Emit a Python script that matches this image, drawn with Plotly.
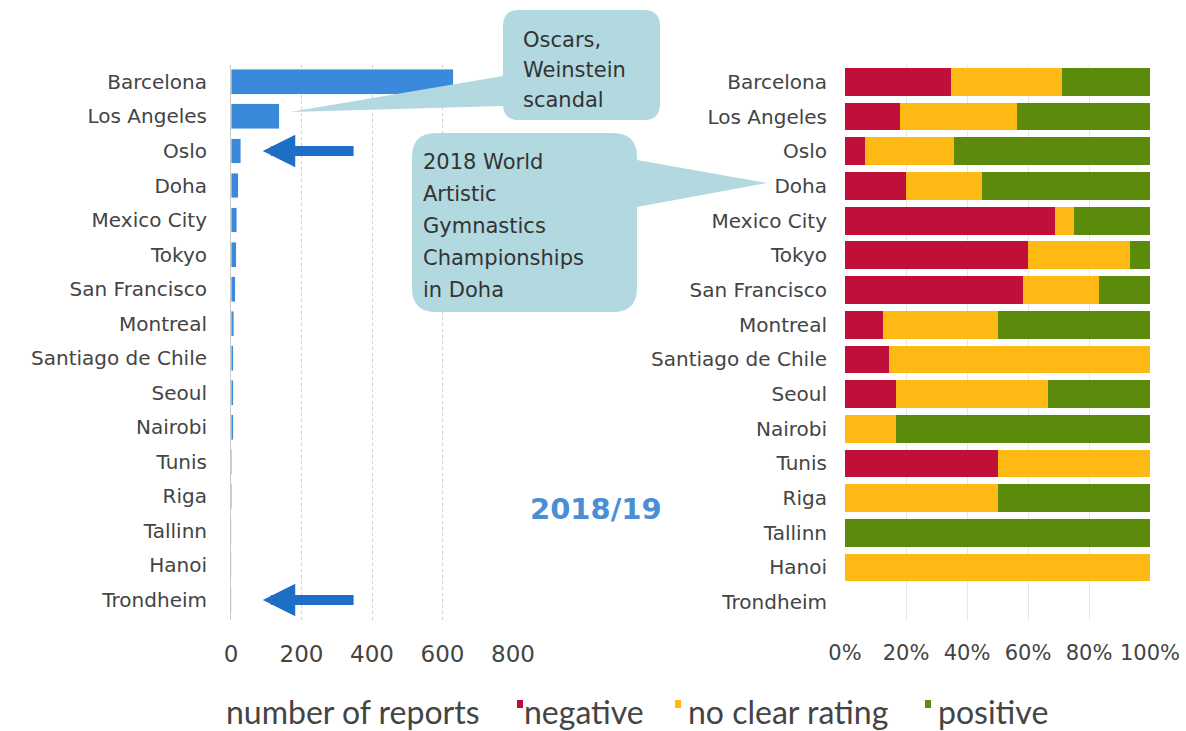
import plotly.graph_objects as go

# ---- data -------------------------------------------------------------
cities = ["Barcelona", "Los Angeles", "Oslo", "Doha", "Mexico City", "Tokyo",
          "San Francisco", "Montreal", "Santiago de Chile", "Seoul", "Nairobi",
          "Tunis", "Riga", "Tallinn", "Hanoi", "Trondheim"]
reports = [630, 137, 28, 20, 16, 15, 12, 8, 7, 6, 6, 2, 2, 1, 1, 0]
negative = [34.6, 17.9, 6.4, 20.0, 68.75, 60.0, 58.3, 12.5, 14.3, 16.7, 0, 50, 0, 0, 0, 0]
no_clear = [36.5, 38.5, 29.3, 25.0, 6.25, 33.3, 25.0, 37.5, 85.7, 50.0, 16.7, 50, 50, 0, 100, 0]
positive = [28.9, 43.6, 64.3, 55.0, 25.0, 6.7, 16.7, 50.0, 0, 33.3, 83.3, 0, 50, 100, 0, 0]
count_ticks = [0, 200, 400, 600, 800]
share_ticks = [0, 20, 40, 60, 80, 100]
share_labels = [f"{v}%" for v in share_ticks]

# ---- styling ----------------------------------------------------------
W, H = 1186, 731
BLUE = "#3A89DB"
ARROW = "#1C6FC4"
RED = "#C00F39"
YELLOW = "#FFB914"
GREEN = "#5C8A0A"
CALLOUT = "#B2D9DF"
TXT = "#444444"
TICK_FONT = dict(family="DejaVu Sans", size=20, color=TXT)


def px(x):
    return x / W


def py(y):
    return 1 - y / H


y_dom = [py(619.5), py(64.6)]

fig = go.Figure()

# left: number of reports
fig.add_trace(go.Bar(x=reports, y=cities, orientation="h", marker_color=BLUE,
                     width=0.72, xaxis="x", yaxis="y", showlegend=False))

# right: rating shares
for name, vals, col in [("negative", negative, RED),
                        ("no clear rating", no_clear, YELLOW),
                        ("positive", positive, GREEN)]:
    fig.add_trace(go.Bar(x=vals, y=cities, orientation="h", name=name,
                         marker_color=col, marker_line_width=0,
                         xaxis="x2", yaxis="y2", showlegend=False))

fig.update_layout(
    width=W, height=H, autosize=False, showlegend=False,
    margin=dict(l=0, r=0, t=0, b=0, pad=0),
    paper_bgcolor="white", plot_bgcolor="white",
    barmode="stack", bargap=0.2,
    xaxis=dict(domain=[px(231), px(513)], range=[0, 800], tickvals=count_ticks,
               showgrid=True, gridcolor="#CFCFCF", griddash="dot", gridwidth=1,
               zeroline=False, tickfont=dict(family="DejaVu Sans", size=23, color=TXT),
               ticklabelstandoff=18, automargin=False, anchor="y"),
    yaxis=dict(domain=y_dom, categoryorder="array", categoryarray=cities,
               autorange="reversed", tickfont=TICK_FONT, showline=True,
               linecolor="#C8C8C8", linewidth=1, ticklabelstandoff=19,
               showgrid=False, automargin=False, anchor="x"),
    xaxis2=dict(domain=[px(845), px(1150)], range=[0, 100], tickvals=share_ticks,
                ticktext=share_labels, showgrid=True, gridcolor="#E6E6E6",
                zeroline=False, tickfont=dict(family="DejaVu Sans", size=21, color=TXT),
                ticklabelstandoff=18, automargin=False, anchor="y2"),
    yaxis2=dict(domain=y_dom, categoryorder="array", categoryarray=cities,
                autorange="reversed", tickfont=TICK_FONT, anchor="x2",
                ticklabelstandoff=17, showgrid=False, automargin=False),
)

# ---- callouts ---------------------------------------------------------
def rounded_box(x0, y0, x1, y1, r, tail=None):
    """Rounded rectangle in pixel coords, optional wedge tail on left/right side."""
    d = f"M{px(x0 + r)},{py(y0)} L{px(x1 - r)},{py(y0)} Q{px(x1)},{py(y0)} {px(x1)},{py(y0 + r)} "
    if tail and tail[0] == "right":
        _, ya, yb, tx, ty = tail
        d += f"L{px(x1)},{py(ya)} L{px(tx)},{py(ty)} L{px(x1)},{py(yb)} "
    d += f"L{px(x1)},{py(y1 - r)} Q{px(x1)},{py(y1)} {px(x1 - r)},{py(y1)} "
    d += f"L{px(x0 + r)},{py(y1)} Q{px(x0)},{py(y1)} {px(x0)},{py(y1 - r)} "
    if tail and tail[0] == "left":
        _, ya, yb, tx, ty = tail
        d += f"L{px(x0)},{py(yb)} L{px(tx)},{py(ty)} L{px(x0)},{py(ya)} "
    d += f"L{px(x0)},{py(y0 + r)} Q{px(x0)},{py(y0)} {px(x0 + r)},{py(y0)} Z"
    return d


fig.add_shape(type="path", xref="paper", yref="paper", layer="above",
              path=rounded_box(503, 10, 660, 120, 16, ("left", 76, 106, 290, 112)),
              fillcolor=CALLOUT, line_width=0)
fig.add_shape(type="path", xref="paper", yref="paper", layer="above",
              path=rounded_box(412, 133, 637, 312, 24, ("right", 160, 207, 767, 183)),
              fillcolor=CALLOUT, line_width=0)

CALL_FONT = dict(family="DejaVu Sans", size=21, color="#333333")
for txt, yc in zip(["Oscars,", "Weinstein", "scandal"], [40, 70, 100]):
    fig.add_annotation(text=txt, xref="paper", yref="paper", x=px(521), y=py(yc),
                       xanchor="left", yanchor="middle", showarrow=False, font=CALL_FONT)
for txt, yc in zip(["2018 World", "Artistic", "Gymnastics", "Championships", "in Doha"],
                   [162, 194, 226, 258, 290]):
    fig.add_annotation(text=txt, xref="paper", yref="paper", x=px(421), y=py(yc),
                       xanchor="left", yanchor="middle", showarrow=False, font=CALL_FONT)

# arrows pointing at Oslo and Trondheim
for city in ["Oslo", "Trondheim"]:
    idx = cities.index(city)
    fig.add_annotation(x=90, y=idx, xref="x", yref="y", ax=352, ay=idx,
                       axref="x", ayref="y", text="", showarrow=True,
                       arrowhead=2, arrowsize=0.65, arrowwidth=10, arrowcolor=ARROW,
                       standoff=0)

# season label
fig.add_annotation(text="<b>2018/19</b>", xref="paper", yref="paper", x=px(596), y=py(509),
                   xanchor="center", yanchor="middle", showarrow=False,
                   font=dict(family="DejaVu Sans", size=29, color="#4A8FD4"))

# ---- legend -----------------------------------------------------------
LEG_FONT = dict(family="Lato", size=32, color="#444444")
fig.add_annotation(text="number of reports", xref="paper", yref="paper", x=px(224), y=py(711),
                   xanchor="left", yanchor="middle", showarrow=False, font=LEG_FONT)
for label, col, sx, tx in [("negative", RED, 517, 522),
                           ("no clear rating", YELLOW, 675, 686),
                           ("positive", GREEN, 925, 936)]:
    fig.add_shape(type="rect", xref="paper", yref="paper",
                  x0=px(sx), x1=px(sx + 6), y0=py(708), y1=py(700),
                  fillcolor=col, line_width=0)
    fig.add_annotation(text=label, xref="paper", yref="paper", x=px(tx), y=py(711),
                       xanchor="left", yanchor="middle", showarrow=False, font=LEG_FONT)

fig.write_html("out.html")
